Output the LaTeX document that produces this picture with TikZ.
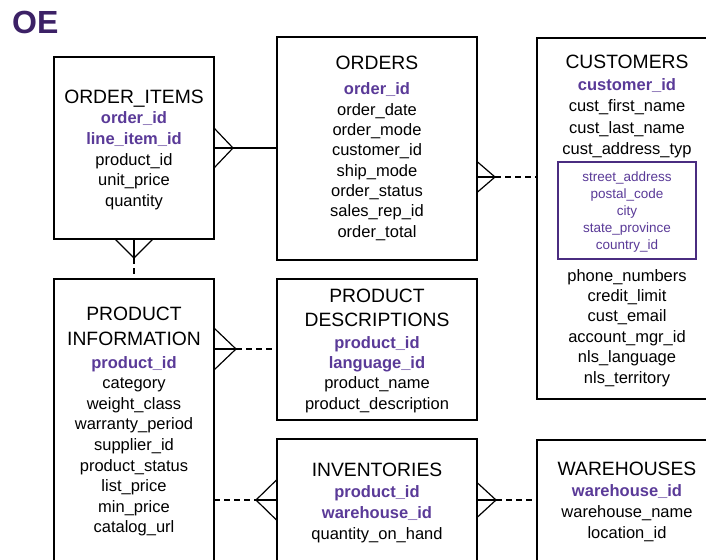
\documentclass[tikz,border=0pt]{standalone}
\usepackage{fontspec}
\setmainfont{Liberation Sans}
\usetikzlibrary{calc}
\definecolor{oecol}{HTML}{3C2166}
\definecolor{keycol}{HTML}{5A3A98}
\definecolor{adrcol}{HTML}{4A2C80}
\begin{document}
\begin{tikzpicture}[x=1pt,y=-1pt,
  box/.style={draw, line width=1.5pt, inner sep=0pt, outer sep=0pt, anchor=north west},
  ttl/.style={font=\fontsize{19.3}{22}\selectfont, anchor=base, inner sep=0pt},
  key/.style={font=\fontsize{16.5}{18}\selectfont\bfseries, text=keycol, anchor=base, inner sep=0pt},
  fld/.style={font=\fontsize{16.5}{18}\selectfont, anchor=base, inner sep=0pt},
  adr/.style={font=\fontsize{13.5}{15}\selectfont, text=keycol, anchor=base, inner sep=0pt},
  rel/.style={line width=1.2pt},
  opt/.style={rel, dash pattern=on 6pt off 4pt}]
\useasboundingbox (0,0) rectangle (706,559);
\fill[white] (0,0) rectangle (706,559);
\clip (0,0) rectangle (706,559);

% schema name
\node[font=\fontsize{32}{34}\selectfont\bfseries, text=oecol, anchor=base west, inner sep=0pt] (oe) at (12,34) {OE};

% entity boxes
\node[box, minimum width=160pt, minimum height=182pt] (oi) at (54,57) {};
\node[box, minimum width=200pt, minimum height=223pt] (ord) at (277,37) {};
\node[box, minimum width=180pt, minimum height=361pt] (cus) at (537,38) {};
\node[box, draw=adrcol, line width=1.2pt, minimum width=138pt, minimum height=97pt] (adrbox) at (558,162) {};
\node[box, minimum width=160pt, minimum height=300pt] (pi) at (54,279) {};
\node[box, minimum width=200pt, minimum height=141pt] (pd) at (277,279) {};
\node[box, minimum width=200pt, minimum height=140pt] (inv) at (277,439) {};
\node[box, minimum width=180pt, minimum height=140pt] (wh) at (537,440) {};

% ORDER_ITEMS
\node[ttl] (oi-t) at (134,103) {ORDER\_ITEMS};
\foreach \t [count=\i from 0] in {order\_id,line\_item\_id}
  \node[key] (oi-k\i) at (134,{124+20.5*\i}) {\t};
\foreach \t [count=\i from 2] in {product\_id,unit\_price,quantity}
  \node[fld] (oi-f\i) at (134,{124+20.5*\i}) {\t};

% ORDERS
\node[ttl] (ord-t) at (377,70) {ORDERS};
\node[key] (ord-k0) at (377,95) {order\_id};
\foreach \t [count=\i from 1] in {order\_date,order\_mode,customer\_id,ship\_mode,order\_status,sales\_rep\_id,order\_total}
  \node[fld] (ord-f\i) at (377,{95+20.3*\i}) {\t};

% CUSTOMERS
\node[ttl] (cus-t) at (627,69) {CUSTOMERS};
\node[key] (cus-k0) at (627,91) {customer\_id};
\foreach \t [count=\i from 1] in {cust\_first\_name,cust\_last\_name,cust\_address\_typ}
  \node[fld] (cus-f\i) at (627,{91+21*\i}) {\t};
\foreach \t [count=\i from 0] in {street\_address,postal\_code,city,state\_province,country\_id}
  \node[adr] (cus-a\i) at (627,{181+17*\i}) {\t};
\foreach \t [count=\i from 0] in {phone\_numbers,credit\_limit,cust\_email,account\_mgr\_id,nls\_language,nls\_territory}
  \node[fld] (cus-g\i) at (627,{281+20.4*\i}) {\t};

% PRODUCT INFORMATION
\node[ttl] (pi-t1) at (134,320) {PRODUCT};
\node[ttl] (pi-t2) at (134,345) {INFORMATION};
\node[key] (pi-k0) at (134,368) {product\_id};
\foreach \t [count=\i from 1] in {category,weight\_class,warranty\_period,supplier\_id,product\_status,list\_price,min\_price,catalog\_url}
  \node[fld] (pi-f\i) at (134,{368+20.6*\i}) {\t};

% PRODUCT DESCRIPTIONS
\node[ttl] (pd-t1) at (377,302) {PRODUCT};
\node[ttl] (pd-t2) at (377,326) {DESCRIPTIONS};
\foreach \t [count=\i from 0] in {product\_id,language\_id}
  \node[key] (pd-k\i) at (377,{348+20.4*\i}) {\t};
\foreach \t [count=\i from 2] in {product\_name,product\_description}
  \node[fld] (pd-f\i) at (377,{348+20.4*\i}) {\t};

% INVENTORIES
\node[ttl] (inv-t) at (377,476) {INVENTORIES};
\foreach \t [count=\i from 0] in {product\_id,warehouse\_id}
  \node[key] (inv-k\i) at (377,{497+21*\i}) {\t};
\node[fld] (inv-f2) at (377,539) {quantity\_on\_hand};

% WAREHOUSES
\node[ttl] (wh-t) at (627,475) {WAREHOUSES};
\node[key] (wh-k0) at (627,496) {warehouse\_id};
\foreach \t [count=\i from 1] in {warehouse\_name,location\_id}
  \node[fld] (wh-f\i) at (627,{496+21*\i}) {\t};

% relationships (crow's foot at the many end)
\coordinate (c1) at (233,148);
\draw[rel] (oi.east |- c1) -- (ord.west |- c1);
\draw[rel] ($(oi.east |- c1)+(0,-20)$) -- (c1) -- ($(oi.east |- c1)+(0,20)$);

\coordinate (c2) at (134,258);
\draw[rel] (oi.south) -- (c2);
\draw[opt] (c2) -- (pi.north);
\draw[rel] ($(oi.south)+(-19,0)$) -- (c2) -- ($(oi.south)+(19,0)$);

\coordinate (c3) at (495,177);
\draw[rel] (ord.east |- c3) -- (c3);
\draw[opt] (c3) -- (cus.west |- c3);
\draw[rel] ($(ord.east |- c3)+(0,-15.5)$) -- (c3) -- ($(ord.east |- c3)+(0,15.5)$);

\coordinate (c4) at (236,349);
\draw[rel] (pi.east |- c4) -- (c4);
\draw[opt] (c4) -- (pd.west |- c4);
\draw[rel] ($(pi.east |- c4)+(0,-21)$) -- (c4) -- ($(pi.east |- c4)+(0,21)$);

\coordinate (c5) at (256,500);
\draw[opt] (pi.east |- c5) -- (c5);
\draw[rel] (c5) -- (inv.west |- c5);
\draw[rel] ($(inv.west |- c5)+(0,-20.5)$) -- (c5) -- ($(inv.west |- c5)+(0,20.5)$);

\coordinate (c6) at (496,500);
\draw[rel] (inv.east |- c6) -- (c6);
\draw[opt] (c6) -- (wh.west |- c6);
\draw[rel] ($(inv.east |- c6)+(0,-17.5)$) -- (c6) -- ($(inv.east |- c6)+(0,17.5)$);
\end{tikzpicture}
\end{document}
